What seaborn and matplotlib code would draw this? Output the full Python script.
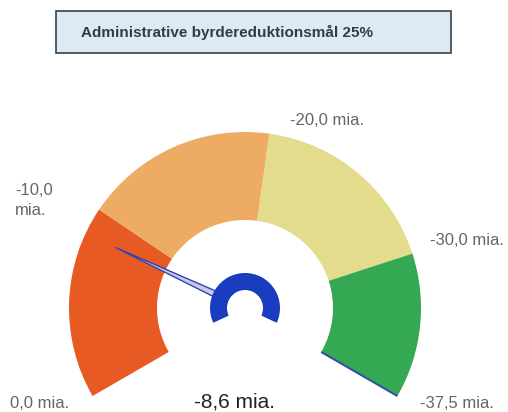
"""
Gauge chart: administrative burden reduction target 25%
"""

import numpy as np
import matplotlib
matplotlib.use('Agg')
import matplotlib.pyplot as plt
from matplotlib.patches import Wedge, Rectangle, Polygon
import seaborn as sns

# Data
title = 'Administrative byrdereduktionsmål 25%'
band_edges = [0.0, -10.0, -20.0, -30.0, -37.5]
band_colors = ['#e85a23', '#eeab64', '#e2dc8c', '#35a853']
tick_labels = ['0,0 mia.', '-10,0\nmia.', '-20,0 mia.', '-30,0 mia.', '-37,5 mia.']
value = -8.6
value_label = '-8,6 mia.'

sns.set_theme(style='white')
plt.rcParams['font.family'] = ['Liberation Sans', 'DejaVu Sans']

W, H = 508, 412
fig = plt.figure(figsize=(W / 100, H / 100), dpi=100)
ax = fig.add_axes([0, 0, 1, 1])
ax.set_xlim(0, W)
ax.set_ylim(0, H)
ax.set_aspect('equal')
ax.axis('off')

# Gauge geometry (pixel units, y up)
cx, cy = 245, 104
r_out, r_in = 176, 88
start_ang, span = 210.0, 240.0
vmin, vmax = band_edges[0], band_edges[-1]


def to_angle(v):
    return start_ang - span * (v - vmin) / (vmax - vmin)


# Colour bands
for lo, hi, col in zip(band_edges[:-1], band_edges[1:], band_colors):
    ax.add_patch(Wedge((cx, cy), r_out, to_angle(hi), to_angle(lo),
                       width=r_out - r_in, facecolor=col, edgecolor='none'))

# Thin blue line on the end edge of the green band
a_end = np.radians(to_angle(vmax))
ax.plot([cx + r_in * np.cos(a_end), cx + r_out * np.cos(a_end)],
        [cy + r_in * np.sin(a_end), cy + r_out * np.sin(a_end)],
        color='#2f55a0', lw=1.5, solid_capstyle='butt')

# Needle
a = np.radians(to_angle(value))
perp = a + np.pi / 2
tip_r, base_r, half_w = 143, 34, 3.0
needle = [
    (cx + tip_r * np.cos(a), cy + tip_r * np.sin(a)),
    (cx + base_r * np.cos(a) + half_w * np.cos(perp), cy + base_r * np.sin(a) + half_w * np.sin(perp)),
    (cx + base_r * np.cos(a) - half_w * np.cos(perp), cy + base_r * np.sin(a) - half_w * np.sin(perp)),
]
ax.add_patch(Polygon(needle, closed=True, facecolor='#c4cbef', edgecolor='#3344aa', lw=1.0))

# Hub ring
ax.add_patch(Wedge((cx, cy), 35, -25, 205, width=17, facecolor='#1a3cbe', edgecolor='none'))

# Tick labels
lab_style = dict(color='#666666', fontsize=12, va='baseline', ha='left')
ax.text(10, 4, tick_labels[0], **lab_style)
first, second = tick_labels[1].split('\n')
ax.text(15, 217, first, **lab_style)
ax.text(15, 197, second, **lab_style)
ax.text(290, 287, tick_labels[2], **lab_style)
ax.text(430, 167, tick_labels[3], **lab_style)
ax.text(420, 4, tick_labels[4], **lab_style)

# Current value
ax.text(235, 4, value_label, color='#222222', fontsize=15, ha='center', va='baseline')

# Title box
ax.add_patch(Rectangle((56, 359), 395, 42, facecolor='#dcebf3', edgecolor='#37414a', lw=1.2))
ax.text(81, 380, title, fontsize=11, fontweight='bold', color='#333c44', ha='left', va='center')

fig.savefig('out.png', dpi=100)
plt.close(fig)
